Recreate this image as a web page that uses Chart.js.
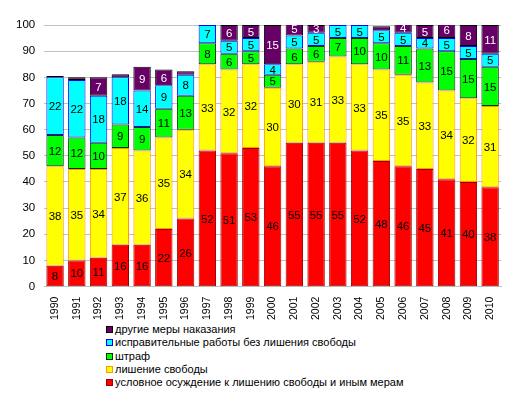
<!DOCTYPE html>
<html>
<head>
<meta charset="utf-8">
<script src="https://cdn.jsdelivr.net/npm/chart.js@4"></script>
<style>
  body { margin: 0; background: #fff; font-family: "Liberation Sans", Arial, sans-serif; }
  #wrap { width: 517px; height: 322px; position: relative; }
  #legenda { position: absolute; left: 106px; top: 323px; font-size: 11px; color: #000; }
  #legenda div { height: 13.3px; line-height: 13.3px; white-space: nowrap; }
  #legenda span { display: inline-block; width: 5px; height: 5px; border: 1px solid; margin-right: 2px; vertical-align: 0px; }
</style>
</head>
<body>
<div id="wrap"><canvas id="grafico"></canvas></div>
<div id="legenda"></div>
<script>
// Dados do gráfico
const anos = ["1990","1991","1992","1993","1994","1995","1996","1997","1998","1999","2000",
  "2001","2002","2003","2004","2005","2006","2007","2008","2009","2010"];
const uslovnoe = [8, 10, 11, 16, 16, 22, 26, 52, 51, 53, 46, 55, 55, 55, 52, 48, 46, 45, 41, 40, 38];
const lishenie = [38, 35, 34, 37, 36, 35, 34, 33, 32, 32, 30, 30, 31, 33, 33, 35, 35, 33, 34, 32, 31];
const shtraf = [12, 12, 10, 9, 9, 11, 13, 8, 6, 5, 5, 6, 6, 7, 10, 10, 11, 13, 15, 15, 15];
const ispravRaboty = [22, 22, 18, 18, 14, 9, 8, 7, 5, 5, 4, 5, 5, 5, 5, 5, 5, 4, 5, 5, 5];
const drugie = [0.5, 1, 7, 1.2, 9, 6, 1.3, 0.5, 6, 5, 15, 5, 3, 1, 0.5, 1.5, 4, 5, 6, 8, 11];
const ticksY = [0, 10, 20, 30, 40, 50, 60, 70, 80, 90, 100];

const series = [
  { label: "условное осуждение к лишению свободы и иным мерам", data: uslovnoe, bg: "#FF0000", bd: "#990000", txt: "#000" },
  { label: "лишение свободы", data: lishenie, bg: "#FFFF00", bd: "#FF9900", txt: "#000" },
  { label: "штраф", data: shtraf, bg: "#00FF00", bd: "#003300", txt: "#000" },
  { label: "исправительные работы без лишения свободы", data: ispravRaboty, bg: "#00FFFF", bd: "#0000FF", txt: "#000" },
  { label: "другие меры наказания", data: drugie, bg: "#660066", bd: "#000000", txt: "#FFF" },
];

// Rótulos no meio de cada segmento
const rotulos = {
  id: "rotulos",
  afterDatasetsDraw(chart) {
    const ctx = chart.ctx;
    ctx.save();
    ctx.font = "11.5px 'Liberation Sans', Arial, sans-serif";
    ctx.textAlign = "center";
    ctx.textBaseline = "middle";
    chart.data.datasets.forEach((ds, i) => {
      const meta = chart.getDatasetMeta(i);
      meta.data.forEach((bar, j) => {
        const v = ds.data[j];
        if (v < 2) return;
        ctx.fillStyle = series[i].txt;
        ctx.fillText(String(v), bar.x, (bar.y + bar.base) / 2 + 1);
      });
    });
    ctx.restore();
  },
};

const config = {
  type: "bar",
  data: {
    labels: anos,
    datasets: series.map((s) => ({
      label: s.label,
      data: s.data,
      backgroundColor: s.bg,
      borderColor: s.bd,
      borderWidth: 1,
      borderSkipped: false,
      categoryPercentage: 1,
      barPercentage: 0.8,
    })),
  },
  options: {
    responsive: true,
    maintainAspectRatio: false,
    animation: false,
    layout: { padding: { left: 7, right: 16, top: 25, bottom: 0 } },
    plugins: {
      legend: { display: false },
      tooltip: { enabled: false },
    },
    scales: {
      x: {
        stacked: true,
        grid: { display: false },
        border: { color: "#C0C0C0" },
        ticks: {
          minRotation: 90,
          maxRotation: 90,
          padding: 2,
          color: "#000",
          font: { family: "'Liberation Sans', Arial, sans-serif", size: 10.5 },
        },
      },
      y: {
        stacked: true,
        min: 0,
        max: 100,
        afterBuildTicks: (axis) => { axis.ticks = ticksY.map((v) => ({ value: v })); },
        grid: { color: "#C0C0C0", drawTicks: false },
        border: { display: false },
        ticks: {
          padding: 9,
          color: "#000",
          font: { family: "'Liberation Sans', Arial, sans-serif", size: 11.5 },
        },
      },
    },
  },
  plugins: [rotulos],
};

const ctx = document.getElementById("grafico").getContext("2d");
const grafico = new Chart(ctx, config);

// Legenda em ordem inversa
const legenda = document.getElementById("legenda");
series.slice().reverse().forEach((s) => {
  const d = document.createElement("div");
  d.innerHTML = `<span style="background:${s.bg};border-color:${s.bd}"></span>${s.label}`;
  legenda.appendChild(d);
});
</script>
</body>
</html>
